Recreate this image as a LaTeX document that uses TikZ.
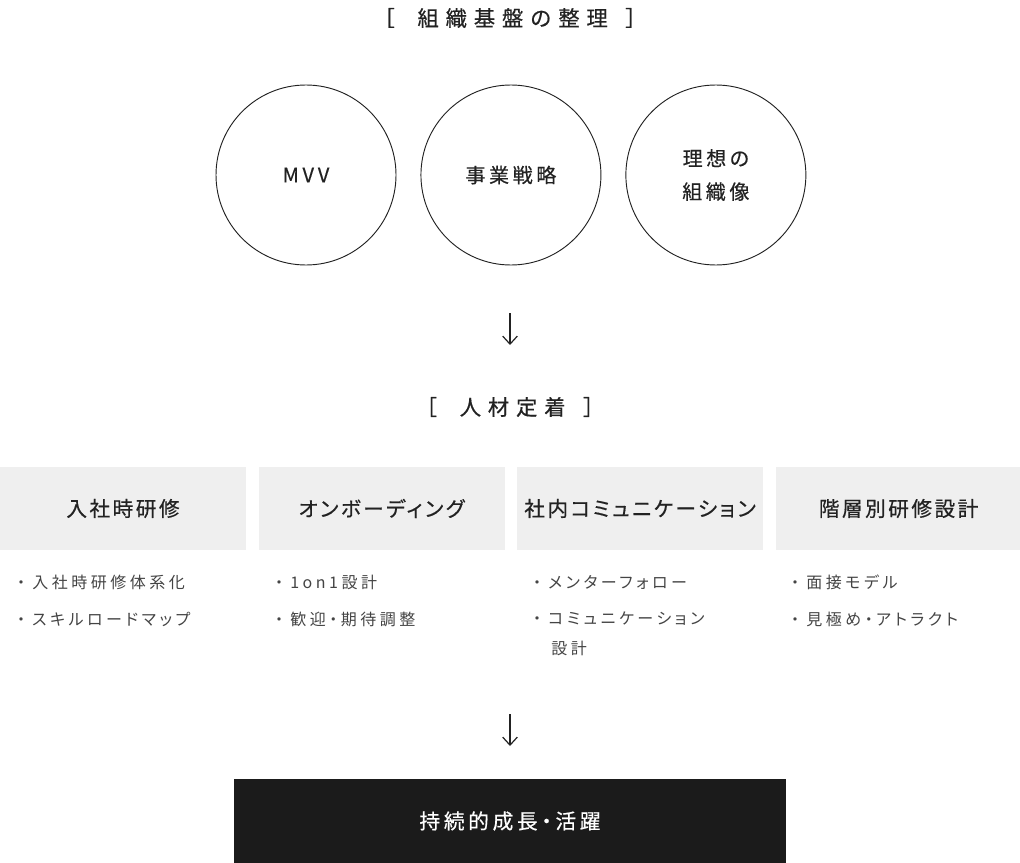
\documentclass[tikz,border=0pt]{standalone}
\usepackage{fontspec}
\setmainfont{Noto Sans CJK JP}
\newfontfamily\titlefont[LetterSpace=32,FakeBold=0.6]{Noto Sans CJK JP}
\newfontfamily\circfont[LetterSpace=18,FakeBold=0.5,RawFeature=+palt]{Noto Sans CJK JP}
\newfontfamily\themefont[LetterSpace=12,FakeBold=0.5,RawFeature=+palt]{Noto Sans CJK JP}
\newfontfamily\itemfont[LetterSpace=22,RawFeature=+palt]{Noto Sans CJK JP}
\usetikzlibrary{arrows.meta, positioning}
\definecolor{ink}{HTML}{222222}
\definecolor{boxgray}{HTML}{EFEFEF}
\definecolor{bodygray}{HTML}{444444}
\definecolor{footblack}{HTML}{1B1B1B}
\tikzstyle{sectitle} = [inner sep=0pt, text=ink, font=\titlefont\fontsize{16}{18}\selectfont]
\tikzstyle{base}     = [circle, draw=ink, line width=0.7pt, minimum size=135pt, inner sep=0pt,
                        align=center, text=ink, font=\circfont\fontsize{15}{25}\selectfont]
\tikzstyle{theme}    = [rectangle, fill=boxgray, minimum width=184.5pt, minimum height=62.25pt,
                        inner sep=0pt, text=ink, font=\themefont\fontsize{15.5}{18}\selectfont]
\tikzstyle{items}    = [anchor=north west, align=left, inner sep=0pt, text=bodygray,
                        font=\itemfont\fontsize{12}{22.5}\selectfont]
\tikzstyle{goal}     = [rectangle, fill=footblack, minimum width=414pt, minimum height=63pt,
                        text=white, font=\circfont\fontsize{15.5}{18}\selectfont]
\tikzstyle{arrow}    = [-{Straight Barb[length=6pt, width=11pt]}, line width=0.9pt, draw=ink]
\newcommand{\bul}{\makebox[1.25em][l]{\hspace{0.3em}・}}

\begin{document}
\begin{tikzpicture}[x=0.75pt, y=-0.75pt]
  \useasboundingbox (0,0) rectangle (1020,863);

  % organisation base
  \node (basetitle) [sectitle] at (510,18) {［\hspace{17pt}組織基盤の整理\hspace{13pt}］};
  \node (mvv)      [base] at (306,175)        {MVV};
  \node (strategy) [base, right=18pt of mvv]  {事業戦略};
  \node (ideal)    [base, right=18pt of strategy] {理想の\\組織像};

  \coordinate (a1s) at (510,313);
  \coordinate (a1e) at (510,345);
  \draw [arrow] (a1s) -- (a1e);

  % retention
  \node (keeptitle) [sectitle] at (510,407) {［\hspace{17pt}人材定着\hspace{13pt}］};
  \node (entry)  [theme] at (123,508.5)     {入社時研修};
  \node (onb)    [theme, right=9pt of entry] {オンボーディング};
  \node (comm)   [theme, right=9pt of onb]   {社内コミュニケーション};
  \node (layer)  [theme, right=9pt of comm]  {階層別研修設計};

  \node (entryitems) [items] at (12,575)  {\bul 入社時研修体系化\\[5pt]\bul スキルロードマップ};
  \node (onbitems)   [items] at (270,575) {\bul 1on1設計\\[5pt]\bul 歓迎・期待調整};
  \node (commitems)  [items] at (528,575) {\bul メンターフォロー\\[5pt]\bul コミュニケーション\\\hspace{1.45em}設計};
  \node (layeritems) [items] at (786,575) {\bul 面接モデル\\[5pt]\bul 見極め・アトラクト};

  \coordinate (a2s) at (510,714);
  \coordinate (a2e) at (510,746);
  \draw [arrow] (a2s) -- (a2e);

  % outcome
  \node (growth) [goal] at (510,821) {持続的成長・活躍};
\end{tikzpicture}
\end{document}
